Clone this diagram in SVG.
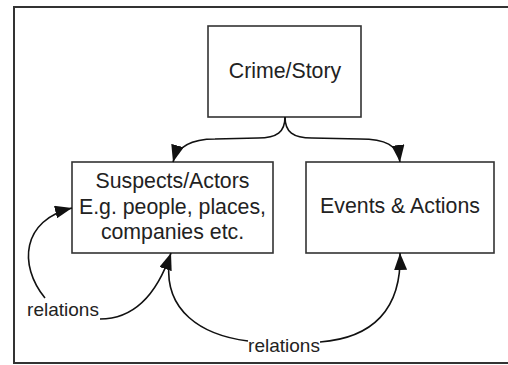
<svg xmlns="http://www.w3.org/2000/svg" width="508" height="365" viewBox="0 0 508 365">
<style>
.frame{fill:none;stroke:#333;stroke-width:2}
.box{fill:#fff;stroke:#333;stroke-width:1.6}
.t{font-family:"Liberation Sans",Arial,sans-serif;font-size:21.3px;fill:#222;text-anchor:middle}
.lbl{font-family:"Liberation Sans",Arial,sans-serif;font-size:19px;fill:#222;text-anchor:middle}
.c{fill:none;stroke:#111;stroke-width:1.6}
</style>
<defs>
<marker id="ah" viewBox="0 0 17 13" refX="17" refY="6.5" markerWidth="17" markerHeight="13" markerUnits="userSpaceOnUse" orient="auto">
<path d="M0,0 L17,6.5 L0,13 Z" fill="#111"/>
</marker>
</defs>
<rect width="508" height="365" fill="#fff"/>
<path class="frame" d="M509,7 L14,7 L14,363 L509,363"/>
<g id="crime">
<rect class="box" x="208" y="26" width="153" height="91"/>
<text class="t" x="285" y="78">Crime/Story</text>
</g>
<g id="suspects">
<rect class="box" x="72" y="162" width="201" height="91"/>
<text class="t" x="172.5" y="188">Suspects/Actors</text>
<text class="t" x="172.5" y="213.5">E.g. people, places,</text>
<text class="t" x="172.5" y="239">companies etc.</text>
</g>
<g id="events">
<rect class="box" x="306" y="162" width="188" height="91"/>
<text class="t" x="400" y="213">Events &amp; Actions</text>
</g>
<g id="connectors">
<path class="c" marker-end="url(#ah)" d="M285,117 C285,132 277,138 258,138 L215,139 C195,139 178,144 173,162"/>
<path class="c" marker-end="url(#ah)" d="M285,117 C285,132 293,138 312,138 L360,139 C385,139 398,145 400,162"/>
<path class="c" marker-end="url(#ah)" d="M45,298 C18,265 22,220 72,208"/>
<path class="c" marker-end="url(#ah)" d="M100,319 C130,319 155,300 171,253"/>
<path class="c" d="M169,264 C165,310 200,335 248,341"/>
<path class="c" marker-end="url(#ah)" d="M320,342 C372,338 402,310 400,253"/>
<text class="lbl" x="63" y="316">relations</text>
<text class="lbl" x="284" y="352">relations</text>
</g>
</svg>
